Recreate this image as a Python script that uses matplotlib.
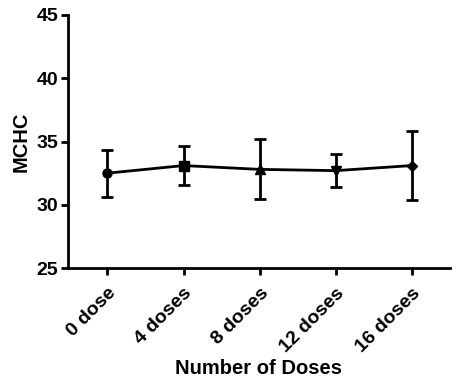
import matplotlib
matplotlib.use("Agg")
import matplotlib.pyplot as plt

categories = ["0 dose", "4 doses", "8 doses", "12 doses", "16 doses"]
means = [32.5, 33.1, 32.8, 32.7, 33.1]
errors = [1.85, 1.55, 2.37, 1.3, 2.7]
markers = ["o", "s", "^", "v", "D"]
yticks = [25, 30, 35, 40, 45]

plt.rcParams['font.family'] = ['Liberation Sans', 'DejaVu Sans']
plt.rcParams['font.weight'] = 'bold'

fig = plt.figure(figsize=(4.59, 3.83), dpi=100)
ax = fig.add_axes([0.148, 0.30, 0.832, 0.661])

lw = 2.0
x = list(range(len(categories)))
ax.plot(x, means, color='black', lw=lw, zorder=2)
for xi, m, e, mk in zip(x, means, errors, markers):
    ax.errorbar(xi, m, yerr=e, fmt=mk, color='black', ms=6.5 if mk != 'D' else 5.5,
                elinewidth=lw, capsize=4.3, capthick=lw, zorder=3)

ax.set_ylim(25, 45)
ax.set_xlim(-0.52, 4.5)
ax.set_yticks(yticks)
ax.set_xticks(x)
ax.set_xticklabels(categories, rotation=45, ha='right', rotation_mode='anchor', fontsize=14, fontweight='bold')
ax.tick_params(axis='y', labelsize=14, width=lw, length=5, pad=2)
ax.tick_params(axis='x', width=lw, length=5, pad=7)
for lab in ax.get_yticklabels():
    lab.set_fontweight('bold')
for s in ['top', 'right']:
    ax.spines[s].set_visible(False)
for s in ['left', 'bottom']:
    ax.spines[s].set_linewidth(lw)
ax.set_ylabel("MCHC", fontsize=14.5, fontweight='bold', labelpad=4)
ax.set_xlabel("Number of Doses", fontsize=14.5, fontweight='bold', labelpad=2)

fig.savefig("out.png", dpi=100)
